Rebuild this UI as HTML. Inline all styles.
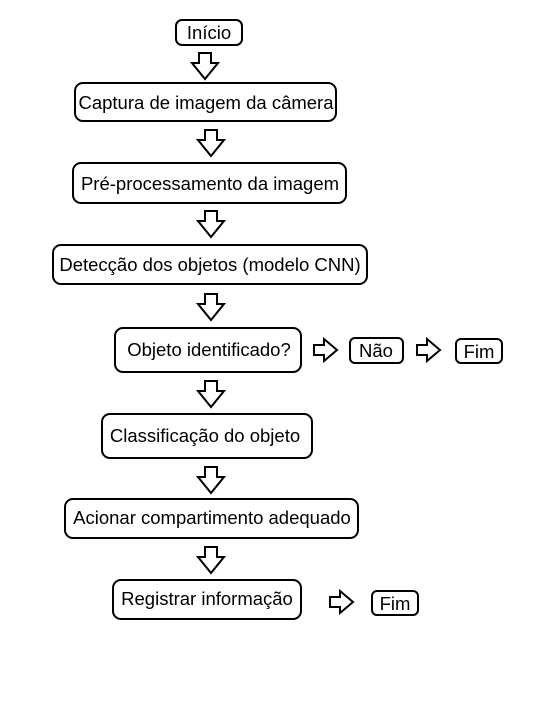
<!DOCTYPE html>
<html><head><meta charset="utf-8"><style>
body{margin:0;width:541px;height:702px;background:#fff;overflow:hidden}
</style></head><body>
<svg width="541" height="702" xmlns="http://www.w3.org/2000/svg" font-family="Liberation Sans, Arial, sans-serif" font-size="18.5">
<defs>
<path id="da" d="M-6,0 H6 V10 H13 L0,26 L-13,10 H-6 Z" fill="#fff" stroke="#000" stroke-width="2" stroke-linejoin="miter"/>
<path id="ra" d="M0,-5 H10 V-11 L23,0 L10,11 V5 H0 Z" fill="#fff" stroke="#000" stroke-width="2"/>
</defs>
<g fill="#fff" stroke="#000" stroke-width="2">
<rect x="176" y="20" width="66" height="25" rx="6"/>
<rect x="75" y="83" width="261" height="38" rx="8"/>
<rect x="73" y="163" width="273" height="40" rx="8"/>
<rect x="53" y="245" width="314" height="39" rx="8"/>
<rect x="115" y="328" width="186" height="44" rx="8"/>
<rect x="350" y="338" width="53" height="25" rx="5"/>
<rect x="456" y="339" width="46" height="24" rx="5"/>
<rect x="102" y="414" width="210" height="44" rx="8"/>
<rect x="65" y="499" width="293" height="39" rx="8"/>
<rect x="113" y="580" width="188" height="39" rx="8"/>
<rect x="372" y="591" width="46" height="24" rx="5"/>
</g>
<use href="#da" x="205" y="53"/>
<use href="#da" x="211" y="130"/>
<use href="#da" x="211" y="211"/>
<use href="#da" x="211" y="294"/>
<use href="#da" x="211" y="381"/>
<use href="#da" x="211" y="467"/>
<use href="#da" x="211" y="547"/>
<use href="#ra" x="314" y="350"/>
<use href="#ra" x="417" y="350"/>
<use href="#ra" x="330" y="602"/>
<g fill="#000" text-anchor="middle">
<text x="209" y="39">Início</text>
<text x="206" y="109">Captura de imagem da câmera</text>
<text x="210" y="190">Pré-processamento da imagem</text>
<text x="210" y="271">Detecção dos objetos (modelo CNN)</text>
<text x="209" y="356">Objeto identificado?</text>
<text x="376" y="357">Não</text>
<text x="479" y="358">Fim</text>
<text x="205" y="442">Classificação do objeto</text>
<text x="212" y="524">Acionar compartimento adequado</text>
<text x="207" y="605">Registrar informação</text>
<text x="395" y="610">Fim</text>
</g>
</svg>
</body></html>
